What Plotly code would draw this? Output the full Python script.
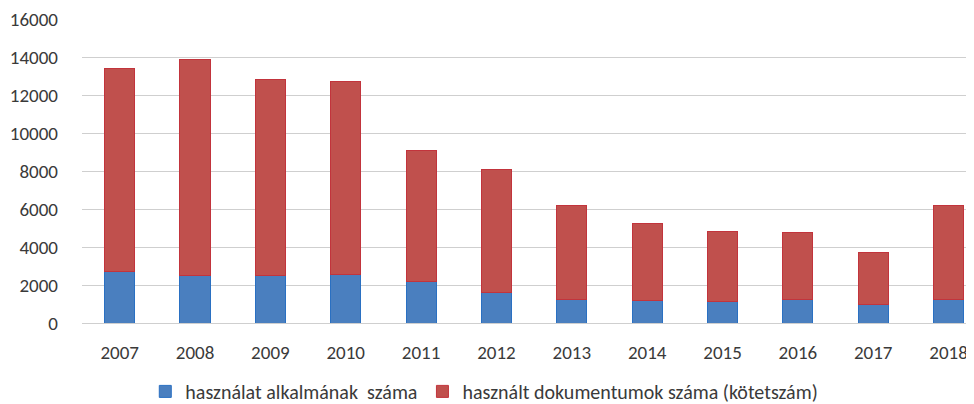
import plotly.graph_objects as go

years = ["2007", "2008", "2009", "2010", "2011", "2012", "2013", "2014", "2015", "2016", "2017", "2018"]
alkalom = [2690, 2515, 2515, 2570, 2163, 1583, 1234, 1181, 1108, 1234, 949, 1234]
dokumentum = [10690, 11375, 10285, 10125, 6930, 6471, 4958, 4040, 3728, 3534, 2764, 4958]
y_ticks = [0, 2000, 4000, 6000, 8000, 10000, 12000, 14000, 16000]
y_tick_labels = ["0", "2000", "4000", "6000", "8000", "10000", "12000", "14000", "16000"]

font_family = "Carlito, Lato, Liberation Sans"
text_color = "#3a3a3a"

fig = go.Figure()
fig.add_trace(go.Bar(
    x=years, y=alkalom, name="használat alkalmának  száma",
    marker=dict(color="#4a7fbf", line=dict(color="#2a70c2", width=1)),
))
fig.add_trace(go.Bar(
    x=years, y=dokumentum, name="használt dokumentumok száma (kötetszám)",
    marker=dict(color="#c0504d", line=dict(color="#c2343c", width=1)),
))

fig.update_layout(
    barmode="stack",
    bargap=0.6,
    width=966, height=396,
    margin=dict(l=74, r=0, t=11, b=81, autoexpand=False),
    plot_bgcolor="white", paper_bgcolor="white",
    font=dict(family=font_family, size=19, color=text_color),
    showlegend=True,
    legend=dict(
        orientation="h", x=0.451, xanchor="center", y=-0.225, yanchor="middle",
        font=dict(size=20, color=text_color), traceorder="normal",
        itemwidth=30,
    ),
    xaxis=dict(
        type="category", range=[-0.5, 11.337], showgrid=False, automargin=False,
        showline=False, ticks="", ticklabelstandoff=16,
        tickfont=dict(size=19, color=text_color),
    ),
    yaxis=dict(
        range=[0, 16000], tickvals=y_ticks, ticktext=y_tick_labels, showgrid=True,
        automargin=False, ticklabeloverflow="allow",
        gridcolor="#cfcfcf", gridwidth=1, zeroline=True, zerolinecolor="#cfcfcf",
        zerolinewidth=1, ticks="", ticklabelstandoff=23,
        tickfont=dict(size=19, color=text_color),
    ),
)

fig.write_html("out.html")
